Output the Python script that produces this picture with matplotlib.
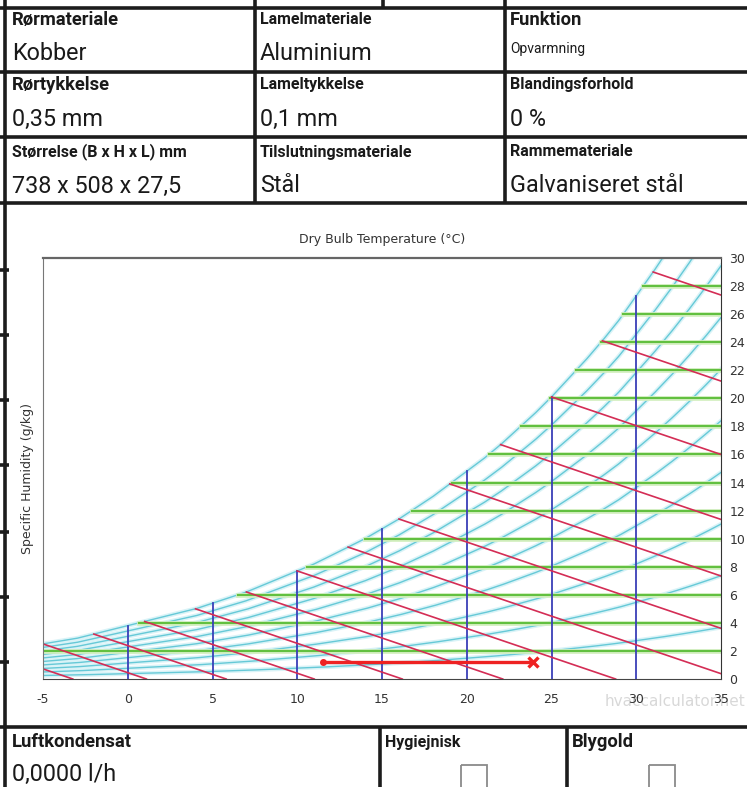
import numpy as np
import matplotlib.pyplot as plt
from matplotlib.patches import Rectangle

plt.rcParams["axes.unicode_minus"] = False

# saturation humidity (g/kg), per degree C
temps = list(range(-8, 36))
sat = [1.95, 2.1, 2.3, 2.5, 2.7, 2.9, 3.2, 3.5, 3.8, 4.1, 4.4, 4.7, 5.0, 5.4,
       5.8, 6.2, 6.7, 7.2, 7.7, 8.2, 8.8, 9.4, 10.0, 10.7, 11.4, 12.2, 13.0,
       13.9, 14.8, 15.7, 16.7, 17.8, 18.9, 20.1, 21.4, 22.7, 24.1, 25.6, 27.3,
       29.0, 30.8, 32.7, 34.7, 36.8]
rh_levels = [0.1, 0.2, 0.3, 0.4, 0.5, 0.6, 0.7, 0.8, 0.9]
dry_bulb_lines = [0, 5, 10, 15, 20, 25, 30]
humidity_lines = [2, 4, 6, 8, 10, 12, 14, 16, 18, 20, 22, 24, 26, 28]
wet_bulb_lines = [-8, -5, -2, 1, 4, 7, 10, 13, 16, 19, 22, 25, 28, 31]
wet_bulb_slope = -0.41
process_t = [11.5, 23.9]
process_w = [1.2, 1.2]

# data sheet text
top_labels = [["Rørmateriale", "Lamelmateriale", "Funktion"],
              ["Rørtykkelse", "Lameltykkelse", "Blandingsforhold"],
              ["Størrelse (B x H x L) mm", "Tilslutningsmateriale", "Rammemateriale"]]
top_values = [["Kobber", "Aluminium", "Opvarmning"],
              ["0,35 mm", "0,1 mm", "0 %"],
              ["738 x 508 x 27,5", "Stål", "Galvaniseret stål"]]
big_labels = ["Rørmateriale", "Funktion", "Rørtykkelse", "Luftkondensat", "Blygold"]
bottom_labels = ["Luftkondensat", "Hygiejnisk", "Blygold"]
bottom_value = "0,0000 l/h"

W, H = 747, 787
fig = plt.figure(figsize=(W / 100, H / 100), dpi=100)
fig.patch.set_facecolor("white")

# page overlay in pixel coordinates
page = fig.add_axes([0, 0, 1, 1])
page.set_xlim(0, W)
page.set_ylim(H, 0)
page.axis("off")

lw_tab = 2.6
k = "#1c1c1c"
for y in [8, 72, 137, 203, 727]:
    page.plot([0, W], [y, y], color=k, lw=lw_tab, solid_capstyle="butt")
page.plot([5, 5], [0, H], color=k, lw=lw_tab, solid_capstyle="butt")
for x in [255, 383, 505]:
    page.plot([x, x], [0, 8], color=k, lw=lw_tab, solid_capstyle="butt")
for x in [255, 505]:
    page.plot([x, x], [8, 203], color=k, lw=lw_tab, solid_capstyle="butt")
for x in [380, 567]:
    page.plot([x, x], [727, H], color=k, lw=lw_tab, solid_capstyle="butt")
for y in [270, 335, 400, 465, 532, 597, 662]:
    page.plot([0, 9], [y, y], color=k, lw=lw_tab, solid_capstyle="butt")

BIG, SMALL, VAL = 13.2, 11.5, 16.8
col_x = [12, 260, 510]
row_y = [20, 85, 152]
for r in range(3):
    for c in range(3):
        lab = top_labels[r][c]
        big = lab in big_labels
        page.text(col_x[c], row_y[r], lab, family="Roboto", weight="bold",
                  fontsize=BIG if big else SMALL, va="center", ha="left", color="#1a1a1a")
        val = top_values[r][c]
        if val == "Opvarmning":
            page.text(col_x[c], row_y[r] + 29, val, family="Roboto", fontsize=10,
                      va="center", ha="left", color="#1a1a1a")
        else:
            page.text(col_x[c], row_y[r] + 34, val, family="Roboto", fontsize=VAL,
                      va="center", ha="left", color="#1a1a1a")

for x, lab in zip([12, 385, 572], bottom_labels):
    big = lab in big_labels
    page.text(x, 742, lab, family="Roboto", weight="bold",
              fontsize=BIG if big else SMALL, va="center", ha="left", color="#1a1a1a")
page.text(12, 774, bottom_value, family="Roboto", fontsize=VAL, va="center",
          ha="left", color="#1a1a1a")
for x in [461, 649]:
    page.add_patch(Rectangle((x, 765), 26, 30, fill=False, ec="#8a8a8a", lw=1.3))

# psychrometric chart
ax = fig.add_axes([43 / W, (H - 679) / H, (721 - 43) / W, (679 - 258) / H])
ax.set_facecolor("white")
T = np.array(temps, dtype=float)
S = np.array(sat)

tf = np.linspace(-8, 35, 300)
sf = np.interp(tf, T, S)
for rh in rh_levels + [1.0]:
    ax.plot(tf, rh * sf, color="#d9f3f7", lw=3.2, zorder=1)
    ax.plot(tf, rh * sf, color="#66c9d7", lw=1.0, zorder=2)

for w in humidity_lines:
    t0 = max(np.interp(w, S, T), -5)
    ax.plot([t0, 35], [w, w], color="#d3efc0", lw=3.4, zorder=3)
    ax.plot([t0, 35], [w, w], color="#62c040", lw=1.5, zorder=4)

for t in dry_bulb_lines:
    ax.plot([t, t], [0, np.interp(t, T, S)], color="#3a3fb8", lw=1.3, zorder=5)

for twb in wet_bulb_lines:
    w0 = np.interp(twb, T, S)
    t_end = min(35, twb - w0 / wet_bulb_slope)
    ax.plot([twb, t_end], [w0, w0 + wet_bulb_slope * (t_end - twb)],
            color="#d42d55", lw=1.2, zorder=6)

ax.plot(process_t, process_w, color="#ee2222", lw=2.4, zorder=8)
ax.plot(process_t[0], process_w[0], "o", color="#ee2222", ms=4, zorder=9)
ax.plot(process_t[1], process_w[1], "x", color="#ee2222", ms=7, mew=2.4, zorder=9)

ax.set_xlim(-5, 35)
ax.set_ylim(0, 30)
ax.set_xticks(range(-5, 36, 5))
ax.set_yticks(range(0, 31, 2))
ax.yaxis.tick_right()
ax.tick_params(length=0, labelsize=9, labelcolor="#333333")
ax.tick_params(axis="x", pad=10)
ax.tick_params(axis="y", pad=6)
for lab in ax.get_xticklabels() + ax.get_yticklabels():
    lab.set_family("DejaVu Sans")
ax.spines["left"].set_color("#777777")
ax.spines["top"].set_color("#666666")
ax.spines["top"].set_linewidth(1.6)
ax.spines["bottom"].set_color("#444444")
ax.spines["right"].set_color("#333333")
for s in ax.spines.values():
    s.set_zorder(10)

page.text(382, 239, "Dry Bulb Temperature (°C)", family="DejaVu Sans",
          fontsize=9, ha="center", va="center", color="#333333")
page.text(27, 478, "Specific Humidity (g/kg)", family="DejaVu Sans",
          fontsize=9, ha="center", va="center", rotation=90, color="#333333")
page.text(745, 701, "hvaccalculator.net", family="DejaVu Sans", fontsize=11,
          ha="right", va="center", color="#d8d8d8", zorder=0)

fig.savefig("out.png", dpi=100, facecolor="white")
